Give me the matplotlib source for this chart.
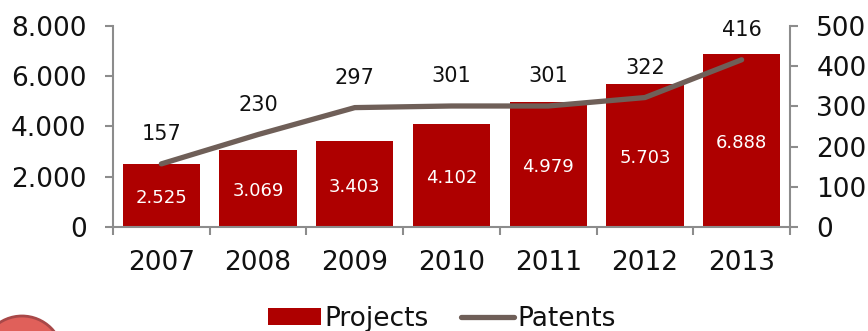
import matplotlib
matplotlib.use('Agg')
import matplotlib.pyplot as plt
import numpy as np
from matplotlib.patches import Circle
from matplotlib.transforms import IdentityTransform

years = ['2007', '2008', '2009', '2010', '2011', '2012', '2013']
projects = [2525, 3069, 3403, 4102, 4979, 5703, 6888]
patents = [157, 230, 297, 301, 301, 322, 416]
project_labels = ['2.525', '3.069', '3.403', '4.102', '4.979', '5.703', '6.888']
left_ticks = [0, 2000, 4000, 6000, 8000]
left_labels = ['0', '2.000', '4.000', '6.000', '8.000']
right_ticks = [0, 100, 200, 300, 400, 500]

plt.rcParams['font.family'] = ['DejaVu Sans']
RED = '#AE0000'
GREY = '#6F5F58'
AXIS = '#8C8C8C'
TXT = '#111111'

fig = plt.figure(figsize=(8.68, 3.31), dpi=100)
ax = fig.add_axes([113 / 868, 1 - 227 / 331, (790 - 113) / 868, (227 - 26) / 331])
x = np.arange(len(years))
bars = ax.bar(x, projects, width=0.8, color=RED, label='Projects')
ax.set_xlim(-0.5, 6.5)
ax.set_ylim(0, 8000)
ax.set_yticks(left_ticks)
ax.set_yticklabels(left_labels, fontsize=19, color=TXT)
# year labels sit between the outward ticks
ax.set_xticks(np.arange(-0.5, 7.0, 1.0))
ax.set_xticklabels([])
ax.tick_params(axis='x', length=6, width=1.5, color=AXIS)
ax.tick_params(axis='y', length=6, width=1.5, color=AXIS, pad=13, direction='out')
for xi, y in zip(x, years):
    ax.annotate(y, (xi, 0), xytext=(0, -26), textcoords='offset points', ha='center', va='center', fontsize=19, color=TXT)
for s in ['top', 'right']:
    ax.spines[s].set_visible(False)
ax.spines['left'].set_color(AXIS)
ax.spines['left'].set_linewidth(1.5)
ax.spines['bottom'].set_color(AXIS)
ax.spines['bottom'].set_linewidth(1.5)

for xi, v, lab in zip(x, projects, project_labels):
    ax.text(xi, v / 2 - 100, lab, ha='center', va='center', color='white', fontsize=13)

ax2 = ax.twinx()
line, = ax2.plot(x, patents, color=GREY, linewidth=3.8, label='Patents', solid_capstyle='round')
ax2.set_ylim(0, 500)
ax2.set_yticks(right_ticks)
ax2.tick_params(axis='y', labelsize=19, labelcolor=TXT, length=6, width=1.5, color=AXIS, pad=13)
for s in ['top', 'left', 'bottom']:
    ax2.spines[s].set_visible(False)
ax2.spines['right'].set_color(AXIS)
ax2.spines['right'].set_linewidth(1.5)

for xi, v in zip(x, patents):
    ax2.annotate(str(v), (xi, v), xytext=(0, 21.5), textcoords='offset points', ha='center', va='center', fontsize=15, color=TXT)

fig.legend(handles=[bars, line], labels=['Projects', 'Patents'], loc='center', bbox_to_anchor=(442 / 868, 1 - 318.5 / 331), ncol=2, frameon=False, fontsize=19, handlelength=2.0, handleheight=0.6, handletextpad=0.15, columnspacing=1.2, labelcolor=TXT)

# edge of the round badge cut off by the bottom of the image
badge = Circle((22, -26), 41, transform=IdentityTransform(), facecolor='#E0605A', edgecolor='#A84848', linewidth=2)
fig.add_artist(badge)
fig.savefig('out.png', dpi=100)
